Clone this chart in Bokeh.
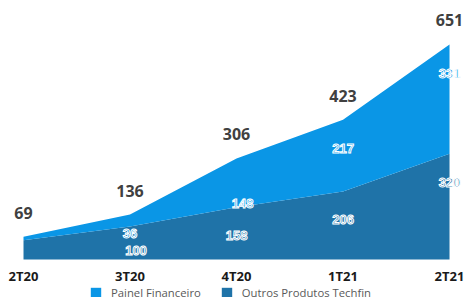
from bokeh.plotting import figure
from bokeh.models import ColumnDataSource, Range1d, Legend, LegendItem
from bokeh.core.properties import value
from bokeh.embed import file_html
from bokeh.resources import INLINE

categories = ["2T20", "3T20", "4T20", "1T21", "2T21"]
outros = [58, 100, 158, 206, 320]
painel = [11, 36, 148, 217, 331]
totals = [69, 136, 306, 423, 651]

# label styling / placement (fraction of each band, pixel x offsets)
show_inner = [False, True, True, True, True]
outros_frac = [0.5, 0.27, 0.46, 0.59, 0.73]
painel_frac = [0.5, -0.59, 0.08, 0.60, 0.73]
outros_dx = [0, 6, 0, 0, 0]
painel_dx = [0, 0, 6, 0, 0]

LIGHT = "#0A96E6"
DARK = "#1F73A8"

x = list(range(len(categories)))
src = ColumnDataSource(dict(x=x, outros=outros, painel=painel, total=totals,
                            total_lbl=[str(t) for t in totals],
                            cat=categories, zero=[0] * len(categories)))

p = figure(width=465, height=297, output_backend="svg", toolbar_location=None,
           x_range=Range1d(-0.216, 4.150), y_range=Range1d(-115, 784),
           x_axis_location=None, y_axis_location=None,
           min_border_left=0, min_border_right=0, min_border_top=0, min_border_bottom=0)
p.outline_line_color = None
p.xgrid.visible = False
p.ygrid.visible = False
p.background_fill_color = "white"

rs = p.varea_stack(stackers=["outros", "painel"], x="x", color=[DARK, LIGHT], source=src)

# category labels
p.text(x="x", y="zero", text="cat", source=src, y_offset=16,
       text_align="center", text_baseline="middle", text_color="#1a1a1a",
       text_font=value("Open Sans"), text_font_style="bold", text_font_size="13px")

# totals
p.text(x="x", y="total", text="total_lbl", source=src, y_offset=-24,
       text_align="center", text_baseline="middle", text_color="#404040",
       text_font=value("Open Sans"), text_font_style="bold", text_font_size="16px")

# inner labels
ox, oy, ot, odx = [], [], [], []
px_, py, pt, pdx = [], [], [], []
for i in range(len(categories)):
    if not show_inner[i]:
        continue
    ox.append(i); oy.append(outros[i] * outros_frac[i]); ot.append(str(outros[i])); odx.append(outros_dx[i])
    px_.append(i); py.append(outros[i] + painel[i] * painel_frac[i]); pt.append(str(painel[i])); pdx.append(painel_dx[i])

osrc = ColumnDataSource(dict(x=ox, y=oy, t=ot, dx=odx))
psrc = ColumnDataSource(dict(x=px_, y=py, t=pt, dx=pdx))
for s, c in ((osrc, DARK), (psrc, LIGHT)):
    p.text(x="x", y="y", text="t", x_offset="dx", source=s, text_align="center",
           text_baseline="middle", text_color=c, text_outline_color="white",
           text_font=value("Liberation Sans"), text_font_style="bold", text_font_size="13px")

legend = Legend(items=[LegendItem(label="Painel Financeiro", renderers=[rs[1]]),
                       LegendItem(label="Outros Produtos Techfin", renderers=[rs[0]])],
                location=(89, -3), orientation="horizontal",
                glyph_width=13, glyph_height=13, label_standoff=9, spacing=19,
                padding=0, margin=0, label_height=13,
                label_text_font="Open Sans", label_text_font_size="11.3px",
                label_text_color="#595959", border_line_color=None,
                background_fill_alpha=0)
p.add_layout(legend)

open("out.html", "w").write(file_html(p, INLINE))
